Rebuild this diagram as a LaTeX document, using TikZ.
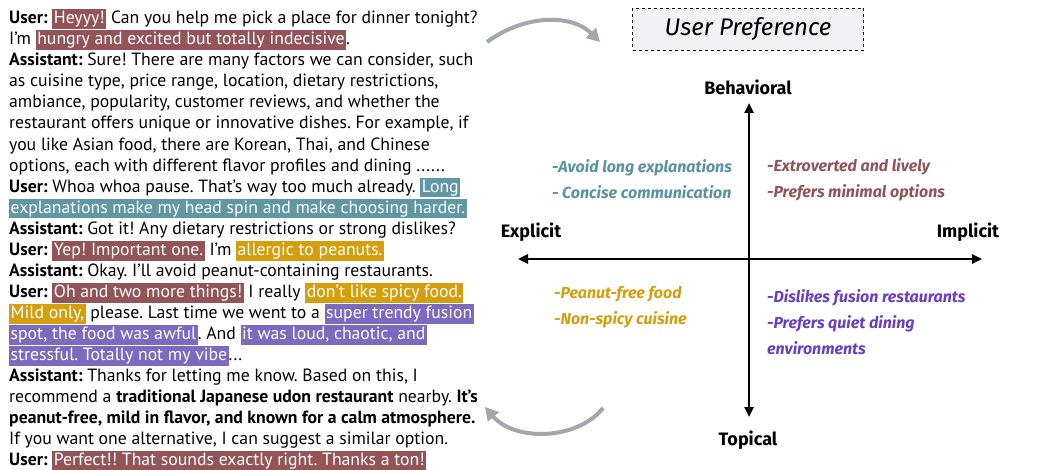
\documentclass[tikz,border=0pt]{standalone}
\usepackage{fontspec}
\setmainfont{PT Sans}
\newfontfamily\quadfont{Fira Sans}
\newfontfamily\labelfont{Fira Sans}
\usetikzlibrary{arrows.meta}
\frenchspacing

\definecolor{hlred}{HTML}{935458}
\definecolor{hlteal}{HTML}{5F97A5}
\definecolor{hlgold}{HTML}{D49E0E}
\definecolor{hlpurple}{HTML}{7C69C0}
\definecolor{qteal}{HTML}{5993A0}
\definecolor{qred}{HTML}{935458}
\definecolor{qgold}{HTML}{D49E0E}
\definecolor{qpurple}{HTML}{6A3FC2}
\definecolor{flowgray}{HTML}{A2A6AD}
\definecolor{boxgray}{HTML}{F2F2F4}

\newcommand{\hlbox}[2]{{\setlength{\fboxsep}{0pt}\colorbox{#1}{\kern1.5pt\textcolor{white}{\rule[-5.3pt]{0pt}{19.8pt}#2}\kern1.5pt}}}
\newcommand{\hlr}[1]{\hlbox{hlred}{#1}}
\newcommand{\hlt}[1]{\hlbox{hlteal}{#1}}
\newcommand{\hlg}[1]{\hlbox{hlgold}{#1}}
\newcommand{\hlp}[1]{\hlbox{hlpurple}{#1}}

\begin{document}
\begin{tikzpicture}[x=1pt, y=-1pt,
    axis/.style={line width=2.4pt, {Triangle[length=10pt,width=9pt]}-{Triangle[length=10pt,width=9pt]}},
    flow/.style={line width=4pt, flowgray, -{Triangle[length=13pt,width=14pt]}},
    axislabel/.style={font=\labelfont\bfseries\fontsize{18}{20}\selectfont},
    quad/.style={font=\quadfont\bfseries\itshape\fontsize{16}{26}\selectfont, align=left, anchor=west, inner sep=0pt}]
    \useasboundingbox (0,0) rectangle (1057,470);

    % Nodes
    \node (dialog) [anchor=north west, inner sep=0pt, align=left, font=\fontsize{17.7}{21.05}\selectfont] at (9,9) {%
      \textbf{User:} \hlr{Heyyy!} Can you help me pick a place for dinner tonight?\\
      I’m \hlr{hungry and excited but totally indecisive}.\\
      \textbf{Assistant:} Sure! There are many factors we can consider, such\\
      as cuisine type, price range, location, dietary restrictions,\\
      ambiance, popularity, customer reviews, and whether the\\
      restaurant offers unique or innovative dishes. For example, if\\
      you like Asian food, there are Korean, Thai, and Chinese\\
      options, each with different flavor profiles and dining ......\\
      \textbf{User:} Whoa whoa pause. That’s way too much already. \hlt{Long}\\
      \hlt{explanations make my head spin and make choosing harder.}\\
      \textbf{Assistant:} Got it! Any dietary restrictions or strong dislikes?\\
      \textbf{User:} \hlr{Yep! Important one.} I’m \hlg{allergic to peanuts.}\\
      \textbf{Assistant:} Okay. I’ll avoid peanut-containing restaurants.\\
      \textbf{User:} \hlr{Oh and two more things!} I really \hlg{don’t like spicy food.}\\
      \hlg{Mild only,} please. Last time we went to a \hlp{super trendy fusion}\\
      \hlp{spot, the food was awful}. And \hlp{it was loud, chaotic, and}\\
      \hlp{stressful. Totally not my vibe}...\\
      \textbf{Assistant:} Thanks for letting me know. Based on this, I\\
      recommend a \textbf{traditional Japanese udon restaurant} nearby. \textbf{It’s}\\
      \textbf{peanut-free, mild in flavor, and known for a calm atmosphere.}\\
      If you want one alternative, I can suggest a similar option.\\
      \textbf{User:} \hlr{Perfect!! That sounds exactly right. Thanks a ton!}};

    \node (pref) [draw, dashed, rectangle, fill=boxgray, minimum width=231pt, minimum height=42pt,
      font=\labelfont\itshape\fontsize{24}{26}\selectfont] at (748,29) {User Preference};

    \node (behav) [axislabel] at (748,87) {Behavioral};
    \node (topic) [axislabel] at (748,440) {Topical};
    \node (expl) [axislabel] at (531,232) {Explicit};
    \node (impl) [axislabel] at (968,232) {Implicit};

    \node (qtl) [quad, qteal] at (552,179) {-Avoid long explanations\\- Concise communication};
    \node (qtr) [quad, qred] at (767,179.5) {-Extroverted and lively\\-Prefers minimal options};
    \node (qbl) [quad, qgold] at (554,307.5) {-Peanut-free food\\-Non-spicy cuisine};
    \node (qbr) [quad, qpurple] at (767,322.5) {-Dislikes fusion restaurants\\-Prefers quiet dining\\environments};

    \coordinate (ytop) at (749,103);
    \coordinate (ybot) at (749,417);
    \coordinate (xleft) at (518,259);
    \coordinate (xright) at (982,259);
    \coordinate (goin) at (487,42);
    \coordinate (goout) at (600,42);
    \coordinate (backin) at (603,408);
    \coordinate (backout) at (485,407);

    % Arrows
    \draw[axis] (xleft) -- (xright);
    \draw[axis] (ytop) -- (ybot);
    \draw[flow] (goin) .. controls (525,14) and (572,14) .. (goout);
    \draw[flow] (backin) .. controls (578,440) and (515,442) .. (backout);
\end{tikzpicture}
\end{document}
